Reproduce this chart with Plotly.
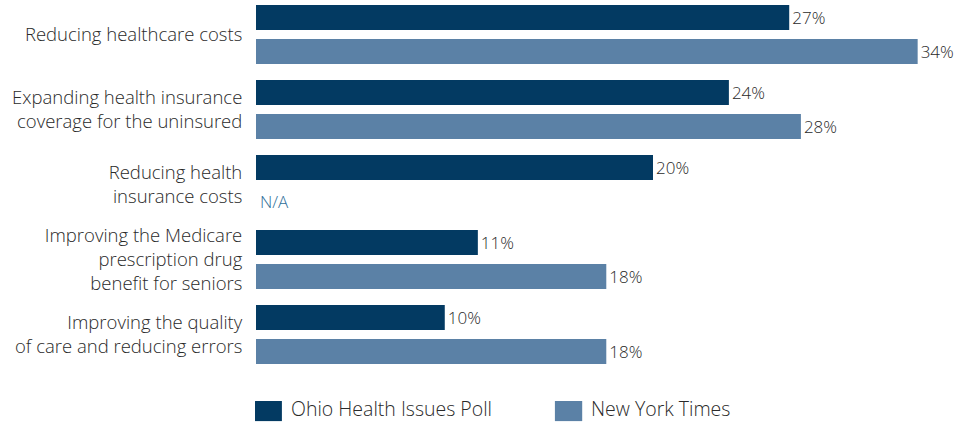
import plotly.graph_objects as go

categories = [
    "Reducing healthcare costs",
    "Expanding health insurance<br>coverage for the uninsured",
    "Reducing health<br>insurance costs",
    "Improving the Medicare<br>prescription drug<br>benefit for seniors",
    "Improving the quality<br>of care and reducing errors",
]
ohio_values = [27.4, 24.3, 20.4, 11.4, 9.7]
nyt_values = [34, 28, None, 18, 18]
series_names = ["Ohio Health Issues Poll", "New York Times"]
na_label = "N/A"

ohio_color = "#033a62"
nyt_color = "#5b81a6"
na_color = "#2f6f9a"
text_color = "#2a2a2a"
FONT = "Open Sans"
FS_VAL = 17
FS_LAB = 18.5
FS_LEG = 19.5

ohio_text = [f"{v:.0f}%" for v in ohio_values]
nyt_text = ["" if v is None else f"{v:.0f}%" for v in nyt_values]

fig = go.Figure()
fig.add_trace(go.Bar(
    y=categories, x=ohio_values, orientation="h", name=series_names[0],
    marker=dict(color=ohio_color, line=dict(width=0)),
    text=ohio_text, textposition="outside", cliponaxis=False,
    textfont=dict(size=FS_VAL, color=text_color, family=FONT, weight=300),
    showlegend=False,
))
fig.add_trace(go.Bar(
    y=categories, x=[0 if v is None else v for v in nyt_values], orientation="h",
    name=series_names[1],
    marker=dict(color=nyt_color, line=dict(width=0)),
    text=nyt_text, textposition="outside", cliponaxis=False,
    textfont=dict(size=FS_VAL, color=text_color, family=FONT, weight=300),
    showlegend=False,
))

# N/A marker for missing NYT value
for cat, v in zip(categories, nyt_values):
    if v is None:
        fig.add_annotation(x=0, y=cat, xref="x", yref="y", text=na_label,
                           showarrow=False, xanchor="left", xshift=2, yshift=-17,
                           font=dict(size=FS_VAL, color=na_color, family=FONT, weight=300))

# custom legend
legend_items = [
    (series_names[0], ohio_color, -0.0014, 0.037, 0.049),
    (series_names[1], nyt_color, 0.427, 0.466, 0.477),
]
for name, color, x0, x1, tx in legend_items:
    fig.add_shape(type="rect", xref="paper", yref="paper", x0=x0, x1=x1,
                  y0=-0.132, y1=-0.078, fillcolor=color, line=dict(width=0))
    fig.add_annotation(x=tx, y=-0.098, xref="paper", yref="paper", text=name,
                       showarrow=False, xanchor="left", yanchor="middle", borderpad=0,
                       font=dict(size=FS_LEG, color=text_color, family=FONT, weight=300))

fig.update_layout(
    width=979, height=422,
    margin=dict(l=256, r=23, t=0, b=50),
    paper_bgcolor="white", plot_bgcolor="white",
    barmode="group", bargap=0.093, bargroupgap=0.265,
    font=dict(family=FONT, size=FS_LAB, color=text_color, weight=300),
    xaxis=dict(range=[0, 35.97], visible=False, fixedrange=True, automargin=False),
    yaxis=dict(range=[4.5, -0.46], showgrid=False, zeroline=False, showline=False,
               automargin=False, fixedrange=True,
               ticks="outside", ticklen=9, tickcolor="rgba(0,0,0,0)",
               tickfont=dict(size=FS_LAB, color=text_color, family=FONT, weight=300)),
)

fig.write_html("out.html", config={"displayModeBar": False},
               post_script="document.body.style.margin='0';document.body.style.overflow='hidden';")
